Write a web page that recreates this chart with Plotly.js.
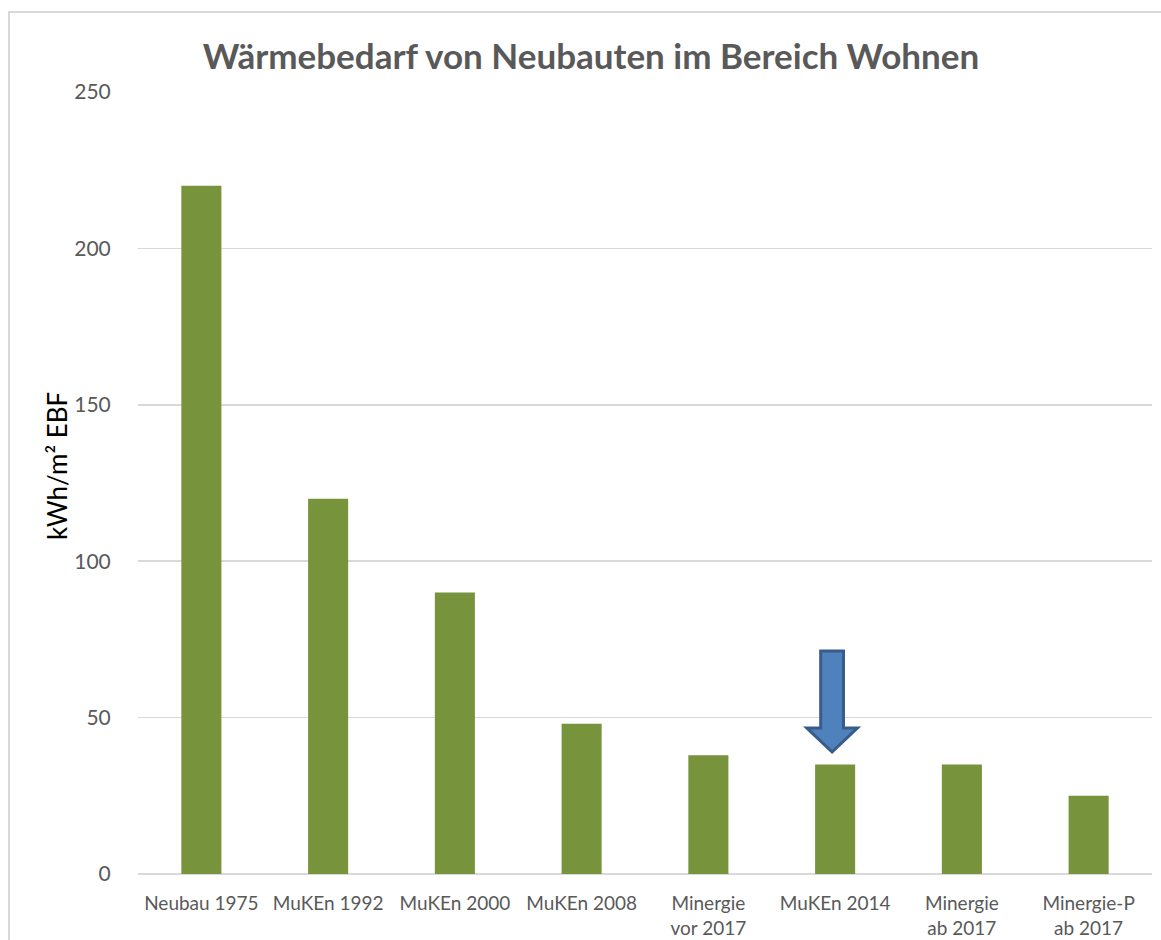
<!DOCTYPE html>
<html><head><meta charset="utf-8">
<script src="https://cdn.plot.ly/plotly-3.0.1.min.js"></script>
<style>
html,body{margin:0;padding:0;background:#fff;}
#frame{position:absolute;left:8px;top:11px;width:1200px;height:1000px;border:2px solid #d9d9d9;box-sizing:border-box;}
#chart{position:absolute;left:0;top:0;width:1161px;height:940px;}
</style></head>
<body>
<div id="frame"></div>
<div id="chart"></div>
<script>
const categories = ["Neubau 1975","MuKEn 1992","MuKEn 2000","MuKEn 2008","Minergie<br>vor 2017","MuKEn 2014","Minergie<br>ab 2017","Minergie-P<br>ab 2017"];
const values = [220, 120, 90, 48, 38, 35, 35, 25];
const yTicks = [0, 50, 100, 150, 200, 250];
const highlightIndex = 5; // MuKEn 2014

const xIdx = categories.map((c,i)=>i);

// arrow geometry (relative to highlighted category, in data units)
const cx = highlightIndex - 0.024;
const sw = 0.09, hw = 0.2;
const yTop = 71.3, yNeck = 46.7, yTip = 39;
const arrowPath = `M ${cx-sw} ${yTop} L ${cx+sw} ${yTop} L ${cx+sw} ${yNeck} L ${cx+hw} ${yNeck} L ${cx} ${yTip} L ${cx-hw} ${yNeck} L ${cx-sw} ${yNeck} Z`;

const FONT = 'Lato, "Open Sans", sans-serif';

const data = [{
  type: 'bar',
  x: xIdx,
  y: values,
  marker: {color: '#77933C'},
  width: 0.316,
  hoverinfo: 'none'
}];

const layout = {
  width: 1161, height: 940,
  paper_bgcolor: 'rgba(0,0,0,0)',
  plot_bgcolor: 'rgba(0,0,0,0)',
  margin: {l: 138, r: 9, t: 92, b: 66},
  showlegend: false,
  title: {
    text: '<b>Wärmebedarf von Neubauten im Bereich Wohnen</b>',
    xref: 'container', yref: 'container',
    x: 591/1161, xanchor: 'center',
    y: 1 - 57/940, yanchor: 'middle',
    font: {family: FONT, size: 35, color: '#595959'}
  },
  xaxis: {
    type: 'linear',
    range: [-0.5, categories.length - 0.5],
    tickmode: 'array',
    tickvals: xIdx,
    ticktext: categories,
    showgrid: false,
    zeroline: false,
    showline: false,
    ticks: '',
    ticklabelstandoff: 16,
    tickfont: {family: FONT, size: 19, color: '#595959'},
    fixedrange: true
  },
  yaxis: {
    range: [0, 250],
    tickmode: 'array',
    tickvals: yTicks,
    showgrid: true,
    gridcolor: '#d9d9d9',
    gridwidth: 1.5,
    zeroline: true,
    zerolinecolor: '#d9d9d9',
    zerolinewidth: 1.5,
    showline: false,
    ticks: 'outside',
    ticklen: 22,
    tickcolor: 'rgba(0,0,0,0)',
    tickfont: {family: FONT, size: 21, color: '#595959'},
    fixedrange: true
  },
  annotations: [{
    text: 'kWh/m² EBF',
    xref: 'paper', yref: 'paper',
    x: -(138-57)/1014, y: (874-466)/782,
    xanchor: 'center', yanchor: 'middle',
    textangle: -90,
    showarrow: false,
    font: {family: FONT, size: 26, color: '#000000'}
  }],
  shapes: [{
    type: 'path',
    xref: 'x', yref: 'y',
    path: arrowPath,
    fillcolor: '#4F81BD',
    line: {color: '#385D8A', width: 3}
  }]
};

Plotly.newPlot('chart', data, layout, {displayModeBar: false, staticPlot: true});
</script>
</body></html>
